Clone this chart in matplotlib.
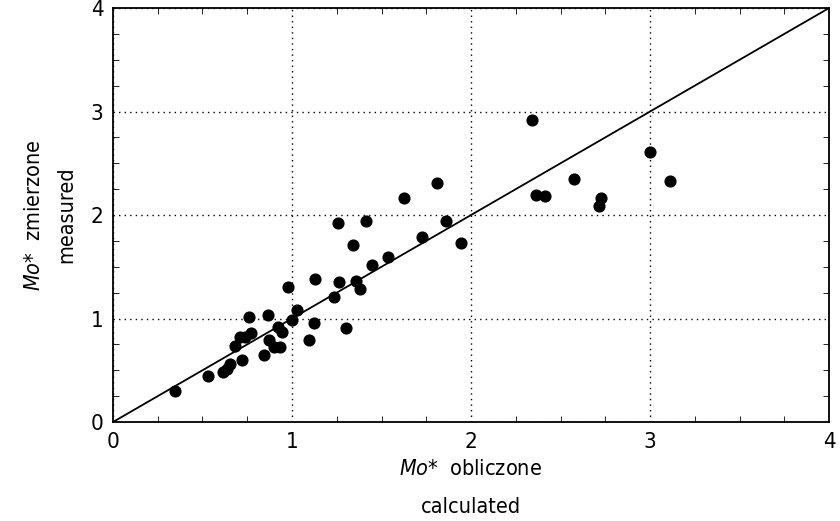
import matplotlib.pyplot as plt
import numpy as np
from matplotlib.ticker import MultipleLocator

plt.rcParams['font.family'] = ['DejaVu Sans']
plt.rcParams['font.stretch'] = 'condensed'

# Mo* calculated (x) vs measured (y)
calc = [0.346, 0.529, 0.616, 0.635, 0.654, 0.72, 0.68, 0.709, 0.737, 0.771,
        0.760, 0.844, 0.866, 0.873, 0.899, 0.933, 0.92, 0.942, 0.98, 0.998,
        1.026, 1.123, 1.093, 1.13, 1.236, 1.261, 1.30, 1.812, 1.627, 1.259,
        1.413, 1.860, 1.726, 1.944, 1.339, 1.536, 1.447, 1.358, 1.38,
        2.341, 2.998, 2.574, 3.113, 2.363, 2.413, 2.724, 2.715]
meas = [0.30, 0.447, 0.48, 0.51, 0.56, 0.60, 0.737, 0.818, 0.824, 0.857,
        1.017, 0.644, 1.03, 0.79, 0.728, 0.728, 0.92, 0.873, 1.307, 0.985,
        1.082, 0.96, 0.79, 1.385, 1.211, 1.356, 0.905, 2.312, 2.161, 1.926,
        1.939, 1.939, 1.79, 1.732, 1.71, 1.597, 1.517, 1.362, 1.282,
        2.918, 2.609, 2.345, 2.329, 2.196, 2.18, 2.167, 2.084]

fig = plt.figure(figsize=(8.4, 5.21), dpi=100)
ax = fig.add_axes([0.1345, 0.19, 0.8525, 0.7946])

ax.plot([0, 4], [0, 4], color='black', lw=1.3)
ax.scatter(calc, meas, s=60, color='black', zorder=3)

ax.set_xlim(0, 4)
ax.set_ylim(0, 4)
ax.xaxis.set_major_locator(MultipleLocator(1))
ax.yaxis.set_major_locator(MultipleLocator(1))
ax.xaxis.set_minor_locator(MultipleLocator(0.25))
ax.yaxis.set_minor_locator(MultipleLocator(0.25))
ax.tick_params(which='both', direction='in', top=True, right=True, labelsize=16)
ax.tick_params(which='major', length=0, pad=7)
ax.tick_params(which='minor', length=4)
ax.grid(which='major', linestyle=(0, (1, 3)), color='black', lw=1.0)
for s in ax.spines.values():
    s.set_linewidth(1.3)

ax.set_xlabel(r'$\mathit{Mo}$*  obliczone' + '\ncalculated', fontsize=15.5, linespacing=2.15, labelpad=5)
ax.set_ylabel(r'$\mathit{Mo}$*  zmierzone' + '\nmeasured', fontsize=15.5, linespacing=1.75, labelpad=10)

plt.savefig('out.png', dpi=100)
